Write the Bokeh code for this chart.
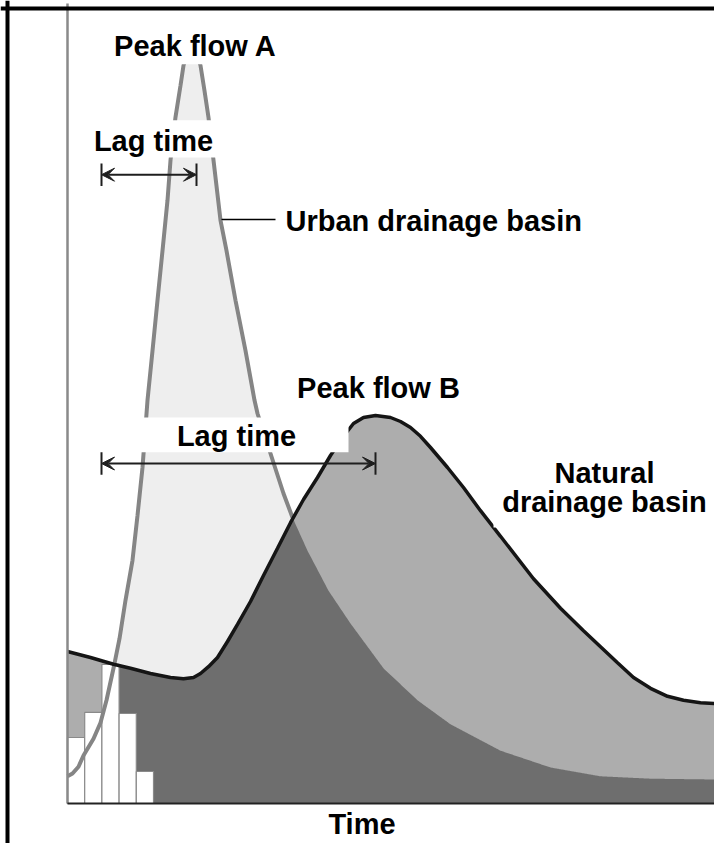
import numpy as np
from bokeh.plotting import figure
from bokeh.models import Range1d, Span, Arrow, VeeHead
from bokeh.core.properties import value
from bokeh.embed import file_html
from bokeh.resources import INLINE

# ---- data (time units, discharge units) ----
urban_t = [0.0, 0.5, 1.1, 1.6, 2.6, 3.3, 3.9, 4.6, 5.2, 5.8, 6.5, 7.0, 7.5, 8.0, 8.5,
           9.0, 9.5, 10.0, 10.3, 10.8, 11.3, 11.6, 11.9, 12.45, 13.0, 13.3, 13.7, 14.1,
           14.6, 15.3, 15.9, 16.8, 17.8, 18.7, 19.0, 20.3, 21.6, 22.5, 24.0, 26.1, 28.3,
           31.6, 35.0, 38.3, 43.3, 48.3, 53.3, 58.3, 64.7]
urban_q = [3.4, 3.75, 4.6, 6.0, 8.1, 10.1, 12.9, 16.9, 20.6, 25.4, 30.4, 36.0, 42.0, 50.4,
           56.6, 62.9, 69.1, 75.4, 80.4, 85.8, 89.75, 92.25, 93.5, 94.25, 93.5, 92.25, 89.1,
           85.75, 80.4, 72.9, 69.1, 62.9, 56.6, 50.4, 48.75, 43.75, 38.75, 35.75, 31.6, 26.6,
           22.5, 16.9, 12.9, 9.9, 6.6, 4.5, 3.4, 3.1, 3.0]

natural_t = [0.0, 2.3, 4.6, 6.3, 8.3, 10.3, 11.6, 12.6, 13.3, 14.1, 15.0, 16.0, 17.0, 18.3,
             19.6, 21.0, 22.3, 23.6, 25.0, 26.3, 27.5, 28.6, 29.6, 30.8, 32.3, 33.3, 34.3,
             35.3, 36.3, 38.0, 39.6, 41.3, 43.3, 46.6, 49.3, 51.6, 53.3, 55.0, 56.6, 58.3,
             60.0, 61.6, 63.3, 64.7]
natural_q = [19.0, 18.25, 17.4, 16.9, 16.25, 15.75, 15.6, 15.75, 16.25, 17.1, 18.25, 20.25,
             22.4, 25.25, 28.5, 31.9, 35.1, 38.0, 40.75, 43.5, 45.75, 47.5, 48.25, 48.5,
             48.25, 47.75, 47.0, 45.9, 44.5, 42.0, 39.5, 36.6, 33.4, 28.1, 24.4, 21.6, 19.6,
             17.6, 15.75, 14.4, 13.4, 12.9, 12.6, 12.5]

rain_left = [0.0, 1.72, 3.44, 5.16, 6.88]
rain_right = [1.72, 3.44, 5.16, 6.88, 8.6]
rain_depth = [8.25, 11.4, 17.4, 11.25, 4.0]

lag_from = 3.4      # start of lag (rainfall peak)
peak_a_t = 12.9     # peak flow A
peak_b_t = 30.8     # peak flow B

FONT = value("Liberation Sans")

p = figure(width=714, height=843,
           x_range=Range1d(-6.7, 64.7), y_range=Range1d(-5.0, 100.375),
           x_axis_type=None, y_axis_type=None,
           output_backend="svg", toolbar_location=None,
           min_border=0, outline_line_color=None,
           background_fill_color="white", border_fill_color="white")
p.min_border_left = p.min_border_right = p.min_border_top = p.min_border_bottom = 0

# ---- fills ----
p.varea(x=urban_t, y1=0, y2=urban_q, fill_color="#eeeeee")
p.varea(x=natural_t, y1=0, y2=natural_q, fill_color="#adadad")
grid = np.union1d(np.union1d(urban_t, natural_t), np.linspace(0, max(urban_t), 800))
overlap = np.minimum(np.interp(grid, urban_t, urban_q), np.interp(grid, natural_t, natural_q))
p.varea(x=grid, y1=0, y2=overlap, fill_color="#6e6e6e")

# ---- rainfall bars ----
p.quad(left=rain_left, right=rain_right, bottom=0, top=rain_depth,
       fill_color="white", line_color="#8a8a8a", line_width=1.2)

# ---- hydrograph lines ----
k = urban_t.index(22.5) + 1
p.line(urban_t[:k], urban_q[:k], line_color="#858585", line_width=4)
p.line(natural_t, natural_q, line_color="#151515", line_width=3.5)

# ---- axes ----
p.segment(x0=[0], y0=[0], x1=[0], y1=[100], line_color="#8a8a8a", line_width=2.5)
p.segment(x0=[0], y0=[0], x1=[70], y1=[0], line_color="#222222", line_width=2)

# ---- outer border (left and top) ----
p.add_layout(Span(location=-6.0, dimension="height", line_color="black", line_width=4))
p.add_layout(Span(location=99.375, dimension="width", line_color="black", line_width=4))

# ---- white backgrounds behind labels ----
p.quad(left=[4.0, 2.1, 7.3, 42.6], right=[21.6, 15.1, 28.1, 70],
       bottom=[92.4, 80.75, 43.9, 34.5], top=[99.0, 85.4, 48.25, 44.1],
       fill_color="white", line_color=None)

# ---- lag time arrows ----
arrow_y = [78.6, 42.5]
for y, xe in zip(arrow_y, [peak_a_t, peak_b_t]):
    p.add_layout(Arrow(x_start=lag_from, y_start=y, x_end=xe, y_end=y,
                       start=VeeHead(size=13, fill_color="#1e1e1e", line_color="#1e1e1e"),
                       end=VeeHead(size=13, fill_color="#1e1e1e", line_color="#1e1e1e"),
                       line_color="#1e1e1e", line_width=2))
    p.segment(x0=[lag_from, xe], y0=[y - 1.4, y - 1.4], x1=[lag_from, xe], y1=[y + 1.4, y + 1.4],
              line_color="#1e1e1e", line_width=2)

# leader line to urban curve
p.segment(x0=[15.4], y0=[73.0], x1=[20.8], y1=[73.0], line_color="black", line_width=1.6)

# ---- texts ----
txt = dict(text_font=FONT, text_font_style="bold", text_font_size="29px",
           text_color="black", text_baseline="alphabetic")
p.text(x=[12.8, 8.6, 16.9, 31.1, 29.45, 53.7, 53.7],
       y=[94.75, 82.85, 46.0, 52.0, -2.5, 41.35, 37.75],
       text=["Peak flow A", "Lag time", "Lag time", "Peak flow B", "Time",
             "Natural", "drainage basin"],
       text_align="center", **txt)
p.text(x=[21.8], y=[72.85], text=["Urban drainage basin"], text_align="left", **txt)

open("out.html", "w").write(file_html(p, INLINE, title="Hydrograph"))
